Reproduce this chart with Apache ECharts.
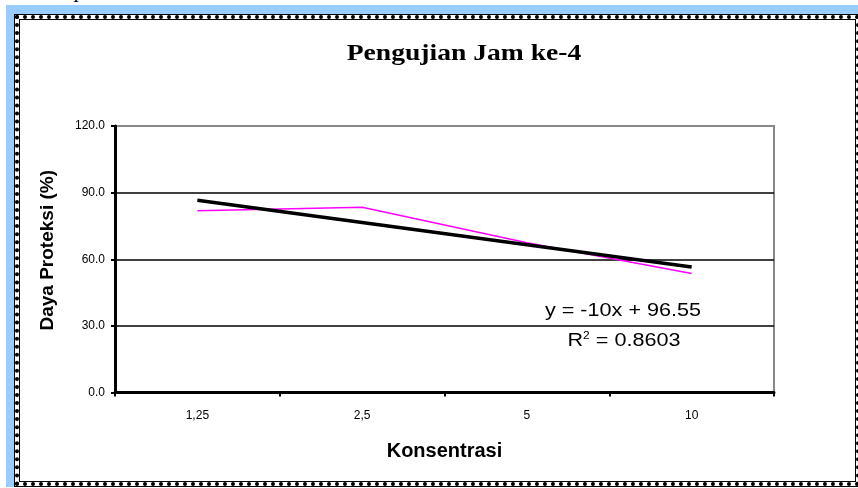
<!DOCTYPE html>
<html>
<head>
<meta charset="utf-8">
<script src="https://cdn.jsdelivr.net/npm/echarts@6/dist/echarts.min.js"></script>
<style>
  html, body { margin: 0; padding: 0; width: 858px; height: 488px; overflow: hidden; background: #fff; }
  #blue { position: absolute; left: 6px; top: 5px; width: 900px; height: 482px; background: #99ccff; }
  #frame { position: absolute; left: 14px; top: 14px; width: 845px; height: 471px;
           border: 1px solid #000; background: #fff; }
  #frame2 { position: absolute; left: 0; top: 0; right: 0; bottom: 0; border: 4px dotted #000; }
  #frame3 { position: absolute; left: 4px; top: 4px; right: 4px; bottom: 4px; border: 1px solid #000; background: #fff; }
  #cut { position: absolute; left: 73px; top: -14px; font-family: 'Liberation Serif', serif; font-size: 18px; color: #000; }
  #chart { position: absolute; left: 0; top: 0; width: 858px; height: 488px; }
</style>
</head>
<body>
<div id="cut">I</div>
<div id="blue"></div>
<div id="frame"><div id="frame2"></div><div id="frame3"></div></div>
<div id="chart"></div>
<script>
const titleText = 'Pengujian Jam ke-4';
const categories = ['1,25', '2,5', '5', '10'];
const dayaProteksi = [81.8, 83.4, 67.4, 53.6];
const trendValues = [86.55, 76.55, 66.55, 56.55];
const yTicks = [0, 30, 60, 90, 120];
const equationText = 'y = -10x + 96.55';
const r2Value = '0.8603';
const xName = 'Konsentrasi';
const yName = 'Daya Proteksi (%)';

const chart = echarts.init(document.getElementById('chart'), null, { renderer: 'canvas' });
const font = 'Liberation Sans, Arial, sans-serif';
chart.setOption({
  backgroundColor: 'transparent',
  animation: false,
  grid: { left: 115, top: 126, right: 84, bottom: 95.5, show: true, borderColor: '#888', borderWidth: 2, backgroundColor: 'transparent' },
  xAxis: {
    type: 'category',
    data: categories,
    boundaryGap: true,
    name: xName,
    nameLocation: 'middle',
    nameGap: 49,
    nameTextStyle: { fontFamily: font, fontSize: 20, fontWeight: 'bold', color: '#000' },
    axisLine: { lineStyle: { color: '#000', width: 3 } },
    axisTick: { show: true, length: 4, lineStyle: { color: '#000', width: 2 } },
    axisLabel: { fontFamily: font, fontSize: 12, color: '#000', margin: 17 },
    splitLine: { show: false }
  },
  yAxis: {
    type: 'value',
    min: yTicks[0],
    max: yTicks[yTicks.length - 1],
    interval: yTicks[1] - yTicks[0],
    name: yName,
    nameLocation: 'middle',
    nameGap: 58,
    nameTextStyle: { fontFamily: font, fontSize: 19, fontWeight: 'bold', color: '#000', padding: [0, 0, 0, 18] },
    axisLine: { show: true, lineStyle: { color: '#000', width: 3 } },
    axisTick: { show: true, length: 4, lineStyle: { color: '#000', width: 2 } },
    axisLabel: { fontFamily: font, fontSize: 12, color: '#000', margin: 10, formatter: v => v.toFixed(1) },
    splitLine: { show: true, lineStyle: { color: ['#000', '#000', '#000', '#000', '#888'], width: 1.5 } }
  },
  series: [
    {
      type: 'line', data: dayaProteksi, symbol: 'none',
      lineStyle: { color: '#ff00ff', width: 1.5 }, z: 3
    },
    {
      type: 'line', data: trendValues, symbol: 'none',
      lineStyle: { color: '#000', width: 3.5 }, z: 4
    }
  ],
  graphic: [
    { type: 'text', x: 464, y: 54, scaleX: 1.2, z: 10,
      style: { text: titleText, font: 'bold 23px "Liberation Serif", serif', fill: '#000', align: 'center', verticalAlign: 'middle' } },
    { type: 'text', x: 623, y: 311, scaleX: 1.2, z: 10,
      style: { text: equationText, font: '18px "Liberation Sans", Arial, sans-serif', fill: '#000', align: 'center', verticalAlign: 'middle' } },
    { type: 'text', x: 624, y: 341, scaleX: 1.2, z: 10,
      style: {
        text: '{a|R}{s|2}{a| = ' + r2Value + '}',
        align: 'center', verticalAlign: 'middle',
        rich: {
          a: { fontFamily: font, fontSize: 18, color: '#000' },
          s: { fontFamily: font, fontSize: 10, color: '#000', verticalAlign: 'top', padding: [0, 0, 9, 0] }
        }
      } }
  ]
});
</script>
</body>
</html>
